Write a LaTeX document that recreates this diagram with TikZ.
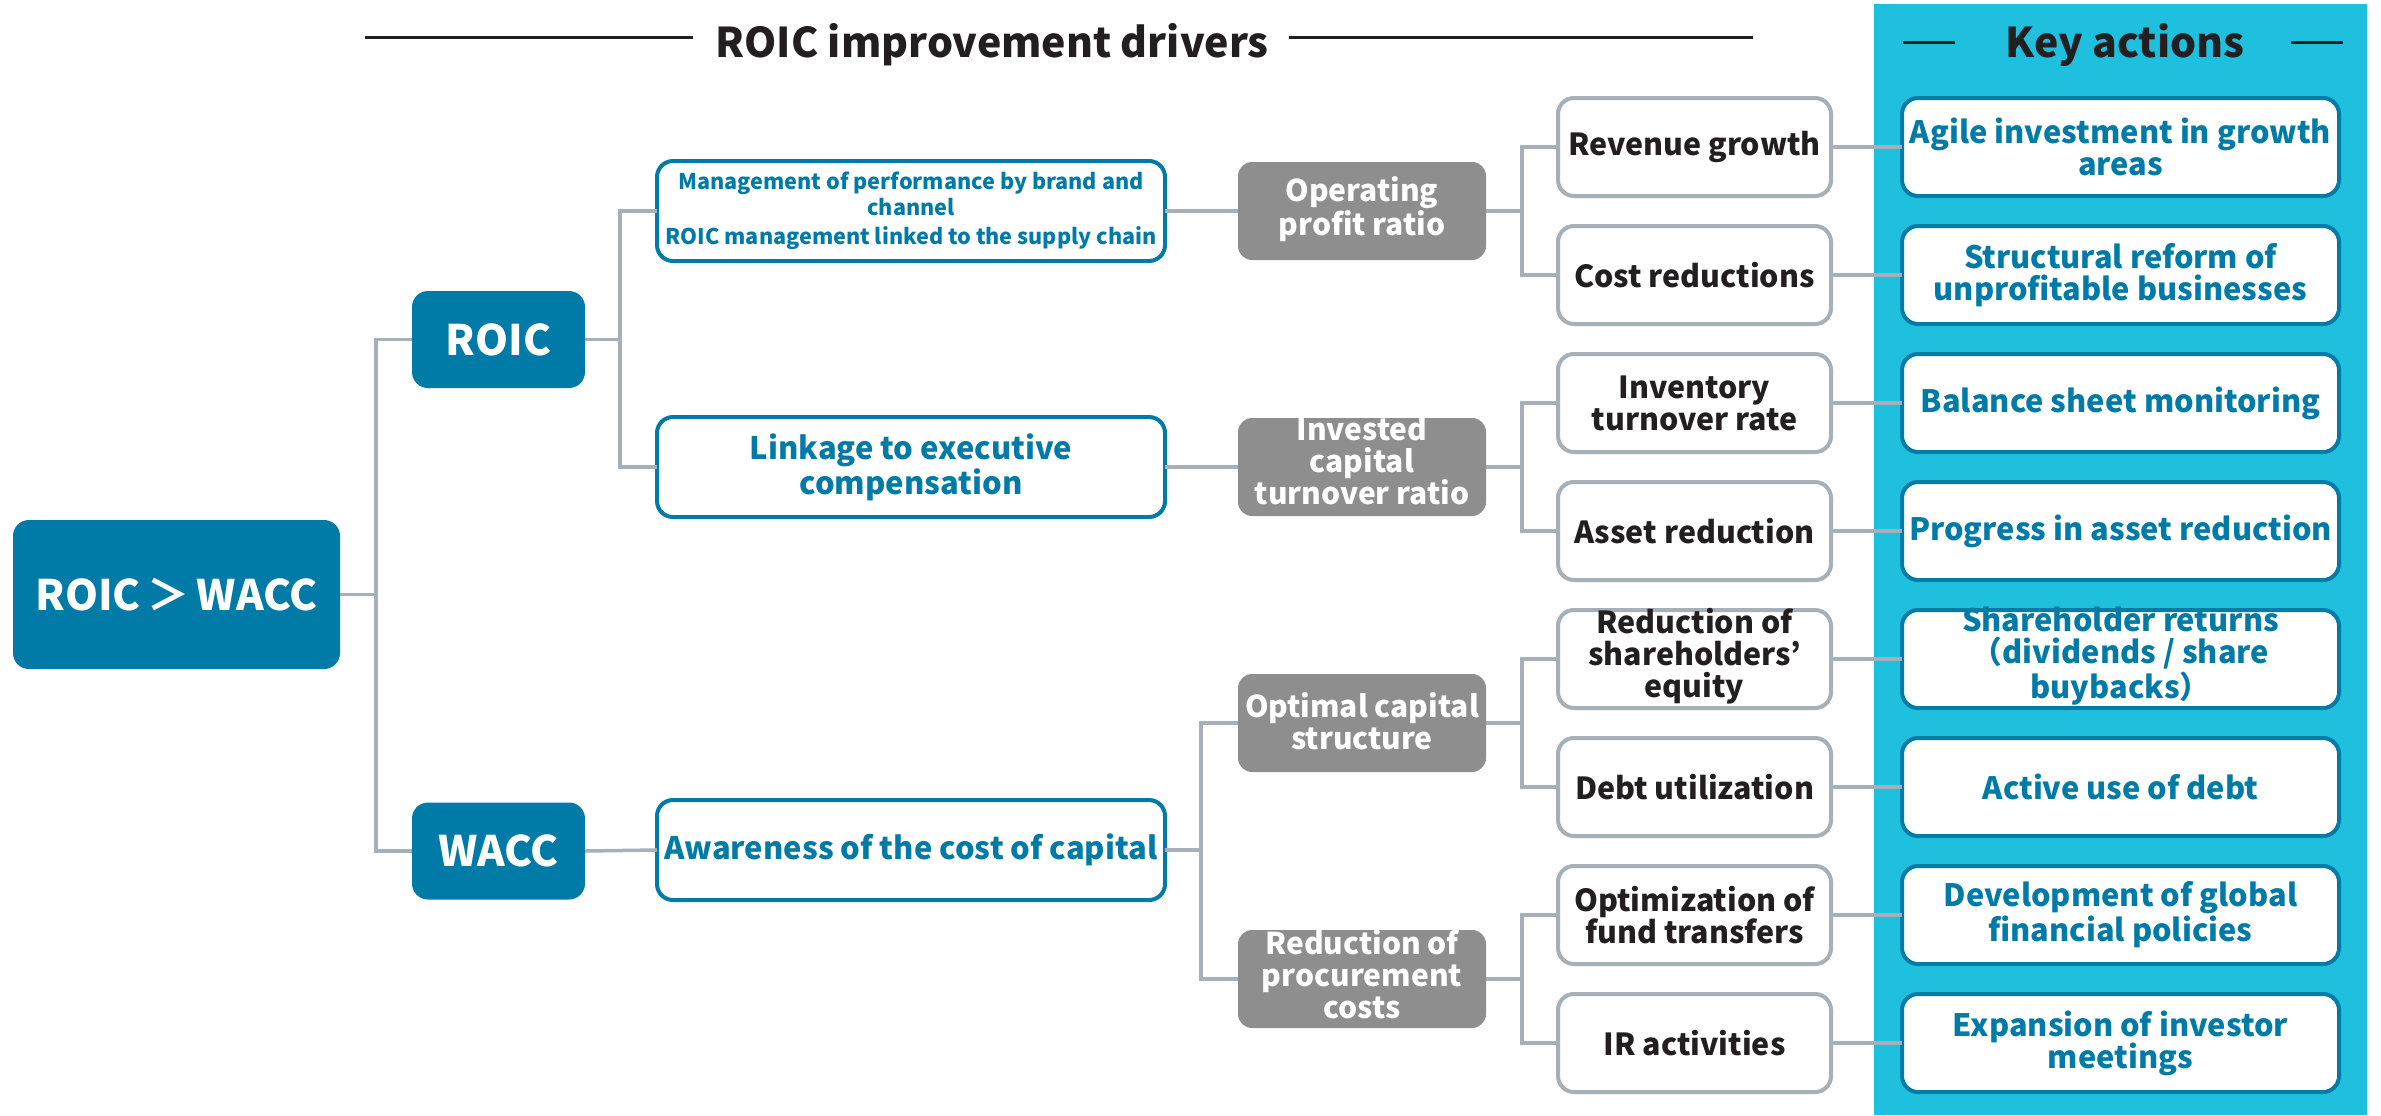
\documentclass[tikz,border=0pt]{standalone}
\usepackage{fontspec}
\setmainfont{Noto Sans CJK JP}
\definecolor{dblue}{RGB}{0,122,167}
\definecolor{cyanbg}{RGB}{30,192,221}
\definecolor{gfill}{RGB}{142,142,142}
\definecolor{lgray}{RGB}{166,176,183}
\definecolor{tdark}{RGB}{35,31,32}
\tikzset{
  base/.style={outer sep=0pt, inner sep=0pt, align=center, font=\bfseries\fontsize{15.3}{16}\selectfont},
  dbox/.style={base, fill=dblue, text=white, rounded corners=8pt, font=\bfseries\fontsize{21}{24}\selectfont},
  bbox/.style={base, draw=dblue, line width=2pt, fill=white, text=dblue, rounded corners=8pt, minimum width=254pt, minimum height=50pt, font=\bfseries\fontsize{15.5}{16}\selectfont},
  gbox/.style={base, fill=gfill, text=white, rounded corners=7pt, minimum width=124pt, minimum height=49pt},
  wbox/.style={base, draw=lgray, line width=2pt, fill=white, text=tdark, rounded corners=8pt, minimum width=136.5pt, minimum height=49pt, font=\bfseries\fontsize{15.2}{16}\selectfont},
  kbox/.style={base, draw=dblue, line width=2pt, fill=white, text=dblue, rounded corners=8pt, minimum width=218.5pt, minimum height=49pt, font=\bfseries\fontsize{15.4}{16}\selectfont},
  gtxt/.style={base, text=white, font=\bfseries\fontsize{15}{16}\selectfont},
  ktxt/.style={base, text=dblue, font=\bfseries\fontsize{15.4}{16}\selectfont},
  wtxt/.style={base, text=tdark, font=\bfseries\fontsize{15.2}{16}\selectfont},
  conn/.style={draw=lgray, line width=1.75pt},
  headline/.style={draw=tdark, line width=1.5pt},
  head/.style={inner sep=0pt, anchor=base, text=tdark, font=\bfseries\fontsize{20.5}{24}\selectfont}
}
\begin{document}
\begin{tikzpicture}[x=0.5pt,y=-0.5pt]
\useasboundingbox (0,0) rectangle (2381,1115);
% key actions panel
\fill[cyanbg] (1874,4) rectangle (2367,1115);

% headings
\node[head] (t1) at (992,57) {ROIC improvement drivers};
\draw[headline] (365,37) -- (693,37);
\draw[headline] (1289,37) -- (1753,37);
\node[head] (t2) at (2125,57) {Key actions};
\draw[headline] (1903,42) -- (1955,42);
\draw[headline] (2291,42) -- (2343,42);

% level 0-1
\node[dbox, minimum width=163.5pt, minimum height=74.5pt] (root) at (176.5,594.5) {ROIC\,＞\,WACC};
\node[dbox, minimum width=86.5pt, minimum height=48.5pt] (roic) at (498.5,339.5) {ROIC};
\node[dbox, minimum width=86.5pt, minimum height=48.5pt] (wacc) at (498.5,851) {WACC};

% level 2
\node[bbox, font=\bfseries\fontsize{10.8}{13}\selectfont] (mgmt) at (911,211) {Management of performance by brand and\\channel\\[1.5pt]ROIC management linked to the supply chain};
\node[bbox] (link) at (911,467) {Linkage to executive\\compensation};
\node[bbox] (aware) at (911,850) {Awareness of the cost of capital};

% level 3 (gray)
\node[gbox] (opr) at (1362,211) {};
\node[gtxt] (oprt) at ([yshift=1pt]opr.center) {Operating\\profit ratio};
\node[gbox] (icr) at (1362,467) {};
\node[gtxt] (icrt) at ([yshift=3pt]icr.center) {Invested\\capital\\turnover ratio};
\node[gbox] (ocs) at (1362,723) {};
\node[gtxt] (ocst) at ([yshift=1pt]ocs.center) {Optimal capital\\structure};
\node[gbox] (rpc) at (1362,979) {};
\node[gtxt] (rpct) at ([yshift=2.5pt]rpc.center) {Reduction of\\procurement\\costs};

% level 4 (white)
\node[wbox] (w1) at (1694.5,147) {Revenue growth};
\node[wbox] (w2) at (1694.5,275) {Cost reductions};
\node[wbox] (w3) at (1694.5,403) {Inventory\\turnover rate};
\node[wbox] (w4) at (1694.5,531) {Asset reduction};
\node[wbox] (w5) at (1694.5,659) {};
\node[wtxt] (w5t) at ([yshift=1.5pt]w5.center) {Reduction of\\shareholders’\\equity};
\node[wbox] (w6) at (1694.5,787) {Debt utilization};
\node[wbox] (w7) at (1694.5,915) {Optimization of\\fund transfers};
\node[wbox] (w8) at (1694.5,1043) {IR activities};

% key actions
\node[kbox] (k1) at (2120.5,147) {Agile investment in growth\\areas};
\node[kbox] (k2) at (2120.5,275) {Structural reform of\\unprofitable businesses};
\node[kbox] (k3) at (2120.5,403) {Balance sheet monitoring};
\node[kbox] (k4) at (2120.5,531) {Progress in asset reduction};
\node[kbox] (k5) at (2120.5,659) {};
\node[ktxt] (k5t) at ([yshift=1.5pt]k5.center) {Shareholder returns\\（dividends / share\\buybacks）};
\node[kbox] (k6) at (2120.5,787) {Active use of debt};
\node[kbox] (k7) at (2120.5,915) {Development of global\\financial policies};
\node[kbox] (k8) at (2120.5,1043) {Expansion of investor\\meetings};

% bus coordinates
\coordinate (b0) at (376,594.5);
\coordinate (b1) at (620,339.5);
\coordinate (b2) at (1201,850);
\coordinate (g1) at (1522,211);
\coordinate (g2) at (1522,467);
\coordinate (g3) at (1522,723);
\coordinate (g4) at (1522,979);

% connectors
\draw[conn] (root.east) -- (b0);
\draw[conn] (roic.west) -| (b0) |- (wacc.west);
\draw[conn] (roic.east) -- (b1);
\draw[conn] (mgmt.west) -| (b1) |- (link.west);
\draw[conn] (mgmt.east) -- (opr.west);
\draw[conn] (link.east) -- (icr.west);
\draw[conn] (wacc.east) -- (aware.west);
\draw[conn] (aware.east) -- (b2);
\draw[conn] (ocs.west) -| (b2) |- (rpc.west);
\draw[conn] (opr.east) -- (g1);
\draw[conn] (w1.west) -| (g1) |- (w2.west);
\draw[conn] (icr.east) -- (g2);
\draw[conn] (w3.west) -| (g2) |- (w4.west);
\draw[conn] (ocs.east) -- (g3);
\draw[conn] (w5.west) -| (g3) |- (w6.west);
\draw[conn] (rpc.east) -- (g4);
\draw[conn] (w7.west) -| (g4) |- (w8.west);
\foreach \i in {1,...,8} {\draw[conn] (w\i.east) -- (k\i.west);}
\end{tikzpicture}
\end{document}
